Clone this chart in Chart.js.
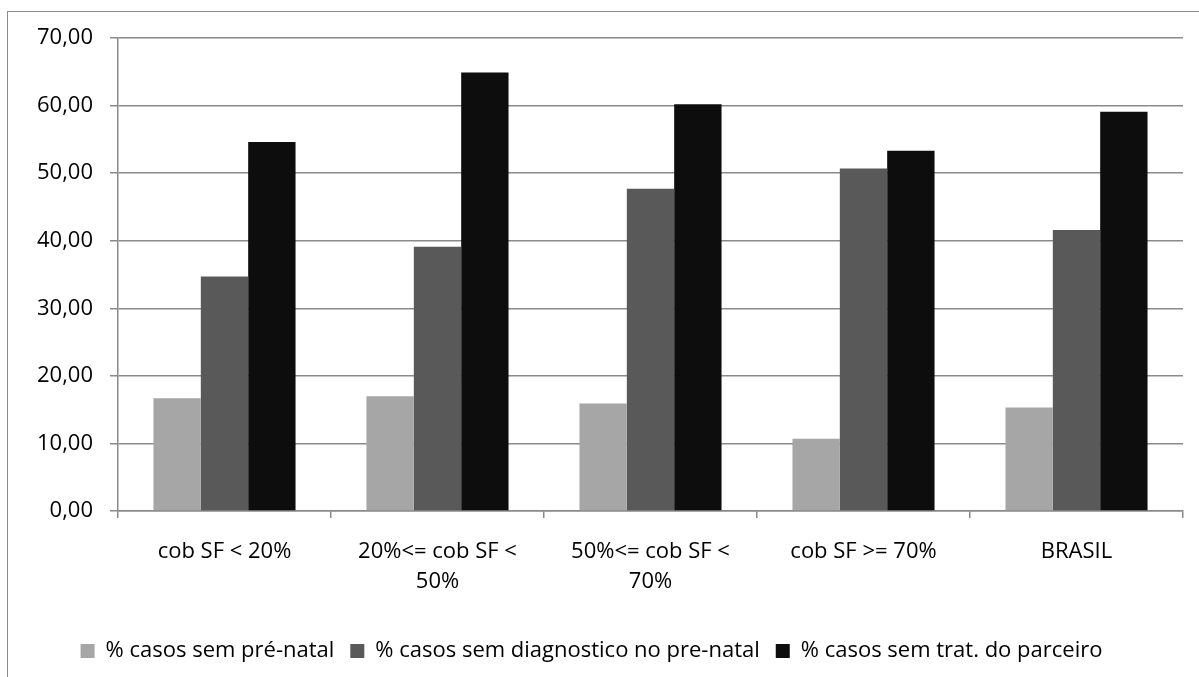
<!DOCTYPE html>
<html>
<head>
<meta charset="utf-8">
<script src="https://cdn.jsdelivr.net/npm/chart.js@4/dist/chart.umd.min.js"></script>
<style>
  body { margin: 0; background: #fff; }
  #wrap { position: relative; width: 1199px; height: 677px; }
  #frame { position: absolute; left: 7px; top: 11px; right: 0; bottom: 0;
           border-top: 1.5px solid #8a8a8a; border-left: 1.5px solid #8a8a8a; pointer-events: none; }
</style>
</head>
<body>
<div id="wrap">
  <canvas id="chart" width="1199" height="677"></canvas>
  <div id="frame"></div>
</div>
<script>
let categorias = [
  "cob SF < 20%",
  ["20%<= cob SF <", "50%"],
  ["50%<= cob SF <", "70%"],
  "cob SF >= 70%",
  "BRASIL"
];
let semPreNatal = [16.7, 17.0, 15.9, 10.7, 15.3];
let semDiagnostico = [34.7, 39.1, 47.7, 50.7, 41.6];
let semTratParceiro = [54.6, 64.9, 60.2, 53.3, 59.1];
let nomesSeries = [
  "% casos sem pré-natal",
  "% casos sem diagnostico no pre-natal",
  "% casos sem trat. do parceiro"
];
let coresSeries = ["#a6a6a6", "#595959", "#0d0d0d"];

let fonte = { family: "'Open Sans', sans-serif", size: 22, lineHeight: 1.36 };
let cinza = "#8a8a8a";

function criarDatasets() {
  let valores = [semPreNatal, semDiagnostico, semTratParceiro];
  let lista = [];
  for (let i = 0; i < valores.length; i++) {
    lista.push({
      label: nomesSeries[i],
      data: valores[i],
      backgroundColor: coresSeries[i],
      borderWidth: 0,
      barPercentage: 1,
      categoryPercentage: 0.667
    });
  }
  return lista;
}

new Chart(document.getElementById("chart"), {
  type: "bar",
  data: { labels: categorias, datasets: criarDatasets() },
  options: {
    responsive: false,
    animation: false,
    layout: { padding: { top: 38, right: 16, bottom: 5, left: 0 } },
    plugins: {
      tooltip: { enabled: false },
      legend: {
        position: "bottom",
        labels: { boxWidth: 14, boxHeight: 14, padding: 16, color: "#000", font: fonte }
      }
    },
    scales: {
      x: {
        grid: { display: true, drawOnChartArea: false, drawTicks: true, tickLength: 7, color: cinza, lineWidth: 1.5, offset: true },
        border: { color: cinza, width: 1.5 },
        ticks: { color: "#000", font: fonte, padding: 19, maxRotation: 0, autoSkip: false },
        afterFit: function (scale) { scale.height = 113; }
      },
      y: {
        min: 0,
        max: 70,
        grid: { color: cinza, lineWidth: 1.5, tickLength: 8 },
        border: { color: cinza, width: 1.5 },
        ticks: {
          stepSize: 10,
          color: "#000",
          font: fonte,
          padding: 17,
          callback: function (v) { return v.toFixed(2).replace(".", ","); }
        },
        afterFit: function (scale) { scale.width = 118; }
      }
    }
  }
});
</script>
</body>
</html>
